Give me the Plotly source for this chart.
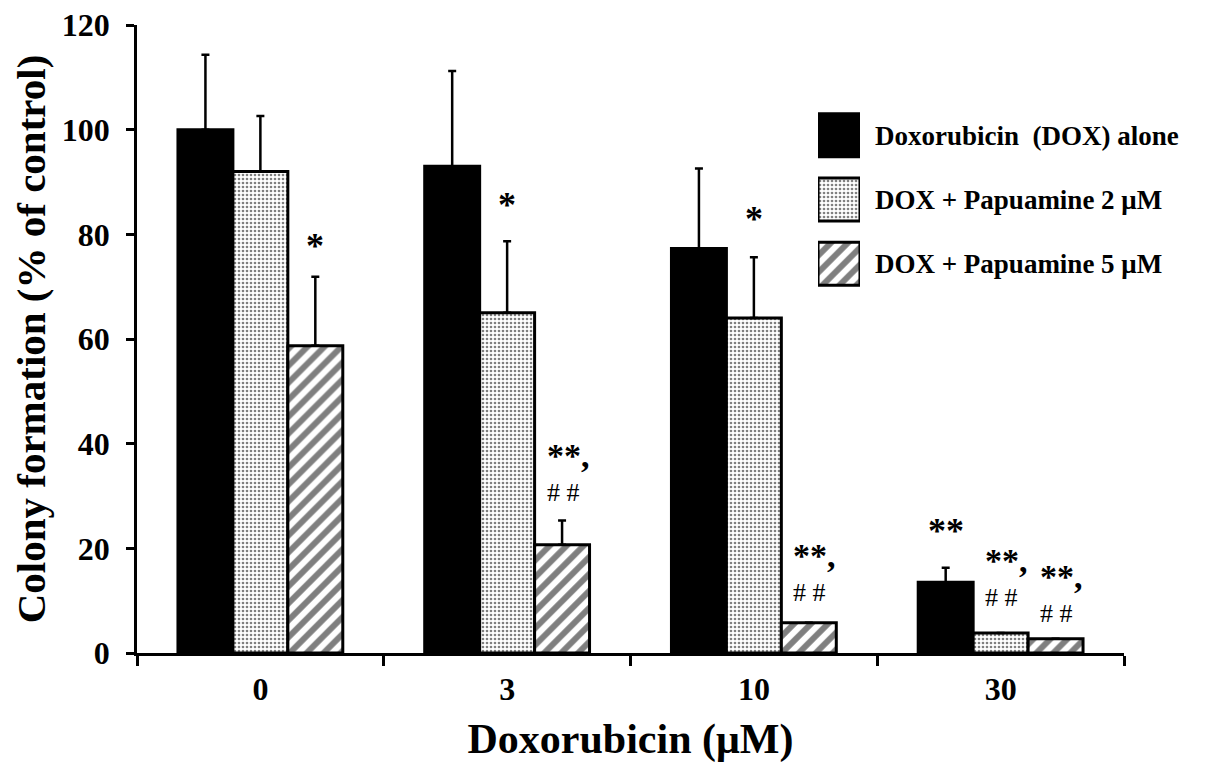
import plotly.graph_objects as go

# Doxorubicin concentration (uM) categories
doses = ["0", "3", "10", "30"]

# colony formation, % of control (mean) and upper error
dox_alone = [100, 93, 77.3, 13.5]
dox_alone_err = [14.3, 18.2, 15.3, 2.8]
pap2 = [92, 65, 64, 3.8]
pap2_err = [10.6, 13.7, 11.6, 0]
pap5 = [58.7, 20.7, 5.8, 2.7]
pap5_err = [13.2, 4.6, 0, 0]

series_names = ["Doxorubicin  (DOX) alone", "DOX + Papuamine 2 \u03bcM", "DOX + Papuamine 5 \u03bcM"]

# significance marks: (dose, series index, label, y)
star_marks = [("0", 2, "*", 77.7), ("3", 1, "*", 85.7), ("10", 1, "*", 82.9), ("30", 0, "**", 23.4)]
# "**, / ##" marks: (dose, series index, y of the block centre)
combo_marks = [("3", 2, 34.5), ("10", 2, 15.5), ("30", 1, 14.5), ("30", 2, 11.5)]

FONT = "Liberation Serif, Times New Roman, serif"
BAR_STEP = 55  # px between bar centres inside a group

styles = [
    dict(color="black", pattern=dict(shape="")),
    dict(color="white", pattern=dict(shape=".", fgcolor="black", bgcolor="white", size=4, solidity=0.35)),
    dict(color="white", pattern=dict(shape="/", fgcolor="black", bgcolor="white", size=12, solidity=0.5)),
]

fig = go.Figure()

values = [dox_alone, pap2, pap5]
errors = [dox_alone_err, pap2_err, pap5_err]
for name, vals, errs, st in zip(series_names, values, errors, styles):
    fig.add_trace(go.Bar(
        x=doses, y=vals, name=name, showlegend=False,
        marker=dict(color=st["color"], pattern=st["pattern"], line=dict(color="black", width=3)),
        error_y=dict(type="data", array=errs, arrayminus=[0] * len(errs), symmetric=False,
                     color="black", thickness=2.5, width=4),
    ))

# legend drawn as a small bar panel so the swatches match the reference size
for name, st in zip(series_names, styles):
    fig.add_trace(go.Bar(
        x=[1], y=[name], orientation="h", xaxis="x2", yaxis="y2", offsetgroup="legend",
        showlegend=False, hoverinfo="skip",
        marker=dict(color=st["color"], pattern=st["pattern"], line=dict(color="black", width=3)),
    ))

for dose, idx, label, y in star_marks:
    fig.add_annotation(x=doses.index(dose), y=y, text="<b>" + label + "</b>", showarrow=False,
                       xshift=(idx - 1) * BAR_STEP, font=dict(family=FONT, size=36, color="black"))

combo_text = "<span style='font-size:34px;font-weight:bold'>**,</span><br># #"
for dose, idx, y in combo_marks:
    fig.add_annotation(x=doses.index(dose), y=y, text=combo_text, showarrow=False, align="left",
                       xshift=(idx - 1) * BAR_STEP + 6, font=dict(family=FONT, size=26, color="black"))

# the page body adds an 8px offset, so margins are trimmed on the left/top
fig.update_layout(
    width=1205, height=780,
    margin=dict(l=129, r=89, t=17, b=135),
    paper_bgcolor="white", plot_bgcolor="white",
    barmode="group", bargap=0.332, bargroupgap=0,
    font=dict(family=FONT, color="black"),
    xaxis=dict(
        type="category", categoryorder="array", categoryarray=doses, range=[-0.5, 3.5],
        automargin=False,
        showline=True, linecolor="black", linewidth=2.5,
        ticks="outside", tickson="boundaries", ticklen=10, tickwidth=2.5, tickcolor="black",
        tickangle=0, ticklabelstandoff=6,
        tickfont=dict(family=FONT, size=32, color="black", weight="bold"),
        title=dict(text="<b>Doxorubicin (\u03bcM)</b>", font=dict(family=FONT, size=42), standoff=18),
        showgrid=False, zeroline=False,
    ),
    yaxis=dict(
        range=[0, 120], tickmode="array", tickvals=[0, 20, 40, 60, 80, 100, 120],
        automargin=False, ticklabeloverflow="allow",
        showline=True, linecolor="black", linewidth=2.5,
        ticks="outside", ticklen=8, tickwidth=2.5, tickcolor="black",
        ticklabelstandoff=10,
        tickfont=dict(family=FONT, size=32, color="black", weight="bold"),
        title=dict(text="<b>Colony formation (% of control)</b>", font=dict(family=FONT, size=41), standoff=11),
        showgrid=False, zeroline=False,
    ),
    xaxis2=dict(domain=[0.690, 0.7325], range=[0, 1], anchor="y2", visible=False, fixedrange=True,
                automargin=False),
    yaxis2=dict(
        domain=[0.5685, 0.8758], anchor="x2", side="right", type="category",
        categoryorder="array", categoryarray=series_names, autorange="reversed",
        automargin=False, ticklabeloverflow="allow",
        showline=False, showgrid=False, zeroline=False, ticks="",
        ticklabelstandoff=14,
        tickfont=dict(family=FONT, size=27, color="black", weight="bold"),
    ),
)

fig.write_html("out.html")
